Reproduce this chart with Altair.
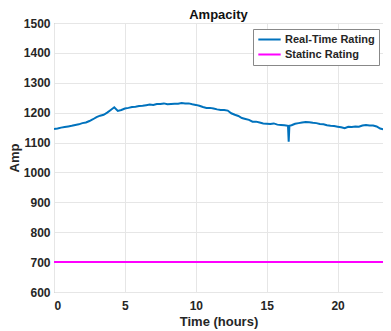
import altair as alt
import pandas as pd

hours = [0.00, 0.25, 0.50, 0.75, 1.00, 1.25, 1.50, 1.75, 2.00, 2.25, 2.50, 2.75,
         3.00, 3.25, 3.50, 3.75, 4.00, 4.25, 4.50, 4.75, 5.00, 5.25, 5.50, 5.75,
         6.00, 6.25, 6.50, 6.75, 7.00, 7.25, 7.50, 7.75, 8.00, 8.25, 8.50, 8.75,
         9.00, 9.25, 9.50, 9.75, 10.00, 10.25, 10.50, 10.75, 11.00, 11.25, 11.50, 11.75,
         12.00, 12.25, 12.50, 12.75, 13.00, 13.25, 13.50, 13.75, 14.00, 14.25, 14.50, 14.75,
         15.00, 15.25, 15.50, 15.75, 16.00, 16.25, 16.50, 16.55, 16.60, 16.75, 17.00, 17.25,
         17.50, 17.75, 18.00, 18.25, 18.50, 18.75, 19.00, 19.25, 19.50, 19.75, 20.00, 20.25,
         20.50, 20.75, 21.00, 21.25, 21.50, 21.75, 22.00, 22.25, 22.50, 22.75, 23.00, 23.25,
         23.50, 23.70]
real_time = [1145, 1147, 1150, 1152, 1154, 1156, 1159, 1161, 1165, 1167, 1172, 1178,
             1185, 1190, 1193, 1200, 1209, 1218, 1206, 1209, 1214, 1216, 1219, 1220,
             1222, 1223, 1225, 1227, 1226, 1229, 1229, 1231, 1228, 1229, 1230, 1230,
             1232, 1231, 1231, 1228, 1226, 1223, 1219, 1216, 1216, 1214, 1211, 1209,
             1209, 1207, 1198, 1193, 1189, 1182, 1179, 1176, 1170, 1170, 1167, 1164,
             1163, 1162, 1164, 1160, 1159, 1158, 1156, 1103, 1156, 1158, 1163, 1165,
             1167, 1169, 1168, 1166, 1165, 1162, 1161, 1158, 1156, 1155, 1153, 1151,
             1148, 1153, 1152, 1154, 1153, 1157, 1159, 1157, 1157, 1154, 1147, 1144,
             1145, 1144]
static_hours = [0.0, 23.7]
static_rating = [700, 700]

series_names = ["Real-Time Rating", "Statinc Rating"]
series_colors = ["#0072BD", "#FF00FF"]
x_ticks = [0, 5, 10, 15, 20]
y_ticks = [600, 700, 800, 900, 1000, 1100, 1200, 1300, 1400, 1500]

df = pd.concat([
    pd.DataFrame({"t": hours, "v": real_time, "series": series_names[0]}),
    pd.DataFrame({"t": static_hours, "v": static_rating, "series": series_names[1]}),
])

font = "Liberation Sans"

chart = alt.Chart(df).mark_line(strokeWidth=2, clip=True).encode(
    x=alt.X("t:Q",
            scale=alt.Scale(domain=[0, 23.2], nice=False, zero=False),
            axis=alt.Axis(values=x_ticks, title="Time (hours)", format="d",
                          labelPadding=8, titlePadding=4)),
    y=alt.Y("v:Q",
            scale=alt.Scale(domain=[600, 1500], nice=False, zero=False),
            axis=alt.Axis(values=y_ticks, title="Amp", format="d",
                          labelPadding=4, titlePadding=2)),
    color=alt.Color("series:N",
                    scale=alt.Scale(domain=series_names, range=series_colors),
                    legend=alt.Legend(title=None, orient="none", legendX=199, legendY=6,
                                      symbolType="stroke", symbolSize=500,
                                      symbolStrokeWidth=2, clipHeight=13,
                                      labelFontSize=11, labelFontWeight="bold",
                                      labelFont=font, labelColor="#262626",
                                      labelOffset=3, padding=4,
                                      strokeColor="#888888", fillColor="white")),
).properties(
    width=329,
    height=269,
    title=alt.Title("Ampacity", fontSize=13, fontWeight="bold", font=font,
                    color="#111111", offset=-5, frame="group"),
    autosize="none",
    padding={"left": 46, "top": 15, "right": 0, "bottom": 40},
).configure_view(
    stroke="#999999", strokeWidth=1
).configure_axis(
    grid=True, gridColor="#e6e6e6", ticks=False, domain=False,
    labelFont=font, labelFontSize=12, labelFontWeight="bold", labelColor="#262626",
    titleFont=font, titleFontSize=13, titleFontWeight="bold", titleColor="#262626",
)

chart.save("out.html", embed_options={"renderer": "svg", "actions": False})
